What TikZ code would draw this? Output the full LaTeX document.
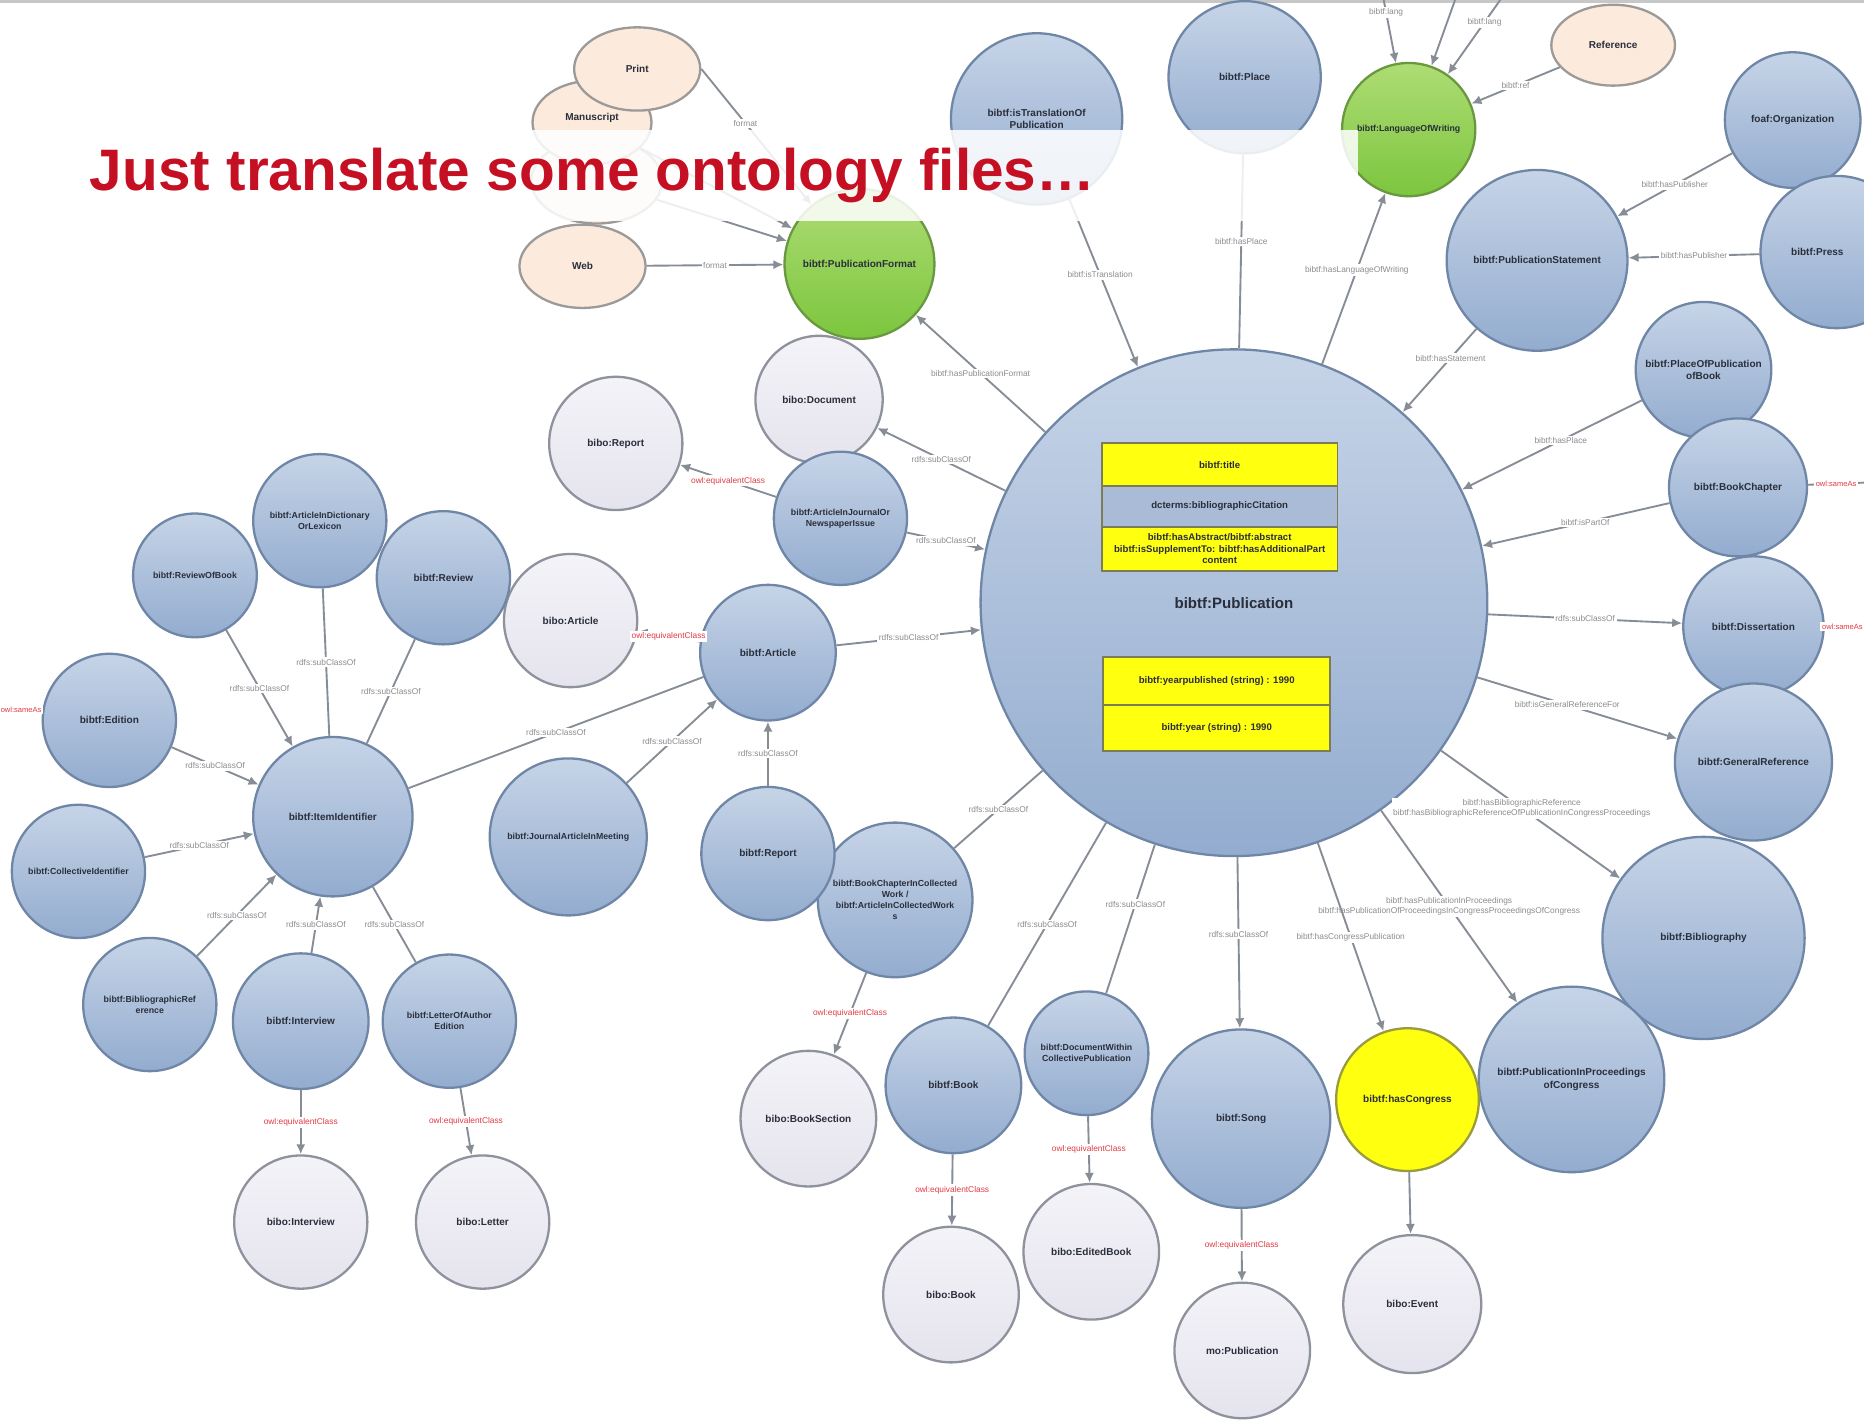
\documentclass[tikz,border=0pt]{standalone}
\usepackage{fontspec}
\setmainfont{Liberation Sans}
\usetikzlibrary{shapes.geometric,arrows.meta}
\definecolor{titlered}{HTML}{C50F22}
\definecolor{btop}{HTML}{C6D4E7}
\definecolor{bbot}{HTML}{93ACCF}
\definecolor{bline}{HTML}{6F86A6}
\definecolor{ltop}{HTML}{F4F3F8}
\definecolor{lbot}{HTML}{E5E4EE}
\definecolor{lline}{HTML}{8E929C}
\definecolor{gtop}{HTML}{AEDC74}
\definecolor{gbot}{HTML}{7CC63E}
\definecolor{gline}{HTML}{6A9840}
\definecolor{yfill}{HTML}{FFFF10}
\definecolor{yline}{HTML}{9A9A40}
\definecolor{pfill}{HTML}{FCEBDD}
\definecolor{pline}{HTML}{9C9A98}
\definecolor{ecol}{HTML}{878D97}
\definecolor{lgray}{HTML}{8C8C8C}
\definecolor{lred}{HTML}{E23A44}
\definecolor{ntext}{HTML}{2A2E3A}
\definecolor{boxline}{HTML}{7C7C58}
\definecolor{rowblue}{HTML}{A9BBD6}
\begin{document}
\begin{tikzpicture}[x=0.01cm,y=-0.01cm,
  nbase/.style={circle,line width=0.55pt,inner sep=0.3pt,align=center,font=\fontsize{2.4}{2.9}\selectfont\bfseries,text=ntext},
  bnode/.style={nbase,draw=bline,top color=btop,bottom color=bbot},
  lnode/.style={nbase,draw=lline,top color=ltop,bottom color=lbot},
  gnode/.style={nbase,draw=gline,top color=gtop,bottom color=gbot},
  ynode/.style={nbase,draw=yline,fill=yfill},
  pnode/.style={ellipse,line width=0.55pt,inner sep=0.3pt,draw=pline,fill=pfill,font=\fontsize{2.4}{2.9}\selectfont\bfseries,text=ntext},
  small/.style={font=\fontsize{2.1}{2.6}\selectfont\bfseries},
  conn/.style={draw=ecol,line width=0.45pt,-{Latex[length=2.4pt,width=2.2pt]}},
  link/.style={draw=ecol,line width=0.45pt},
  elab/.style={font=\fontsize{2}{2.4}\selectfont,text=lgray,fill=white,inner sep=0.4pt,align=center},
  rlab/.style={elab,text=lred},
  boxrow/.style={draw=boxline,line width=0.45pt,fill=yfill,inner sep=0.3pt,align=center,font=\fontsize{2.3}{2.8}\selectfont\bfseries,text=ntext},
]
\fill[white] (0,0) rectangle (1568,1199);
\useasboundingbox (0,0) rectangle (1568,1199);
\fill[black!22] (0,0) rectangle (1568,2.5);

% ---------- top area ----------
\node[pnode,minimum width=1.10cm,minimum height=0.72cm] (pElec) at (502,152) {};
\node[pnode,minimum width=1.00cm,minimum height=0.70cm] (pManu) at (498,103) {};
\node[inner sep=0pt,font=\fontsize{2.4}{2.9}\selectfont\bfseries,text=ntext] (pManuText) at (498,99) {Manuscript};
\node[pnode,minimum width=1.06cm,minimum height=0.70cm] (pPrint) at (536,58) {Print};
\node[pnode,minimum width=1.06cm,minimum height=0.70cm] (pWeb) at (490,224) {Web};
\node[gnode,minimum size=1.26cm] (gFormat) at (723,222) {bibtf:PublicationFormat};
\node[bnode,minimum size=1.44cm] (bTrans) at (872,100) {bibtf:isTranslationOf\\Publication};
\node[bnode,minimum size=1.28cm] (bPlace) at (1047,65) {bibtf:Place};
\node[gnode,minimum size=1.12cm,small] (gLang) at (1185,109) {bibtf:LanguageOfWriting};
\node[pnode,minimum width=1.04cm,minimum height=0.68cm] (pRef) at (1357,38) {Reference};
\coordinate (topA) at (1164,0);
\coordinate (topB) at (1224,0);
\coordinate (topC) at (1262,0);

% ---------- right side ----------
\node[bnode,minimum size=1.14cm] (bOrg) at (1508,101) {foaf:Organization};
\node[bnode,minimum size=1.28cm] (bPubl) at (1545,212) {};
\node[anchor=west,inner sep=0pt,font=\fontsize{2.4}{2.9}\selectfont\bfseries,text=ntext] (bPublText) at (1506,212) {bibtf:Press};
\node[bnode,minimum size=1.52cm] (bStmt) at (1293,219) {bibtf:PublicationStatement};
\node[bnode,minimum size=1.14cm] (bPlaceB) at (1433,311) {bibtf:PlaceOfPublication\\ofBook};
\node[bnode,minimum size=1.16cm] (bChap) at (1462,410) {bibtf:BookChapter};
\node[bnode,minimum size=1.18cm] (bDiss) at (1475,527) {bibtf:Dissertation};
\node[bnode,minimum size=1.32cm] (bGen) at (1475,641) {bibtf:GeneralReference};
\node[bnode,minimum size=1.70cm] (bBib) at (1433,789) {bibtf:Bibliography};
\node[bnode,minimum size=1.56cm] (bProc) at (1322,908) {bibtf:PublicationInProceedings\\ofCongress};
\node[ynode,minimum size=1.20cm] (yCong) at (1184,925) {bibtf:hasCongress};
\node[lnode,minimum size=1.16cm] (lEvent) at (1188,1097) {bibo:Event};
\coordinate (offR1) at (1568,406);
\coordinate (offR2) at (1568,527);

% ---------- bottom ----------
\node[bnode,minimum size=1.50cm] (bSong) at (1044,941) {bibtf:Song};
\node[lnode,minimum size=1.14cm] (lSong) at (1045,1136) {mo:Publication};
\node[bnode,minimum size=1.04cm,small] (bColl) at (914,886) {bibtf:DocumentWithin\\CollectivePublication};
\node[lnode,minimum size=1.14cm] (lEdited) at (918,1053) {bibo:EditedBook};
\node[bnode,minimum size=1.14cm] (bBook) at (802,913) {bibtf:Book};
\node[lnode,minimum size=1.14cm] (lBook) at (800,1089) {bibo:Book};
\node[lnode,minimum size=1.14cm] (lSect) at (680,941) {bibo:BookSection};
\node[bnode,minimum size=1.30cm,small] (bInColl) at (753,757) {bibtf:BookChapterInCollected\\Work /\\bibtf:ArticleInCollectedWork\\s};
\node[bnode,minimum size=1.12cm] (bRep) at (646,718) {bibtf:Report};
\node[bnode,minimum size=1.14cm] (bArt) at (646,549) {bibtf:Article};
\node[bnode,minimum size=1.32cm,small] (bMeet) at (478,704) {bibtf:JournalArticleInMeeting};
\node[lnode,minimum size=1.12cm] (lArt) at (480,522) {bibo:Article};
\node[lnode,minimum size=1.12cm] (lRep) at (518,373) {bibo:Report};
\node[lnode,minimum size=1.07cm] (lDoc) at (689,336) {bibo:Document};
\node[bnode,minimum size=1.12cm,small] (bJour) at (707,436) {bibtf:ArticleInJournalOr\\NewspaperIssue};

% ---------- left cluster ----------
\node[bnode,minimum size=1.04cm,small] (bRevB) at (164,484) {bibtf:ReviewOfBook};
\node[bnode,minimum size=1.12cm,small] (bDict) at (269,438) {bibtf:ArticleInDictionary\\OrLexicon};
\node[bnode,minimum size=1.12cm] (bRev) at (373,486) {bibtf:Review};
\node[bnode,minimum size=1.12cm] (bEd) at (92,606) {bibtf:Edition};
\node[bnode,minimum size=1.34cm] (bHub) at (280,687) {bibtf:ItemIdentifier};
\node[bnode,minimum size=1.12cm,small] (bCollId) at (66,733) {bibtf:CollectiveIdentifier};
\node[bnode,minimum size=1.12cm,small] (bRefr) at (126,845) {bibtf:BibliographicRef\\erence};
\node[bnode,minimum size=1.14cm] (bInt) at (253,859) {bibtf:Interview};
\node[bnode,minimum size=1.12cm,small] (bLet) at (378,859) {bibtf:LetterOfAuthor\\Edition};
\node[lnode,minimum size=1.12cm] (lInt) at (253,1028) {bibo:Interview};
\node[lnode,minimum size=1.12cm] (lLet) at (406,1028) {bibo:Letter};
\coordinate (offL) at (0,595);

% ---------- central class ----------
\node[bnode,minimum size=4.26cm,font=\fontsize{3.6}{4.2}\selectfont\bfseries] (pub) at (1038,507) {bibtf:Publication};
\node[boxrow,minimum width=1.98cm,minimum height=0.36cm] (r1) at (1026,391) {bibtf:title};
\node[boxrow,fill=rowblue,minimum width=1.98cm,minimum height=0.34cm] (r2) at (1026,426) {dcterms:bibliographicCitation};
\node[boxrow,minimum width=1.98cm,minimum height=0.37cm] (r3) at (1026,461.5) {bibtf:hasAbstract/bibtf:abstract\\bibtf:isSupplementTo: bibtf:hasAdditionalPart\\content};
\node[boxrow,minimum width=1.91cm,minimum height=0.40cm] (r4) at (1023.5,573) {bibtf:yearpublished (string) : 1990};
\node[boxrow,minimum width=1.91cm,minimum height=0.39cm] (r5) at (1023.5,612.5) {bibtf:year (string) : 1990};

% ---------- connectors ----------
\draw[conn] (pPrint.east) -- node[elab,pos=0.4]{format} (gFormat);
\draw[conn] (pManu) -- (gFormat);
\draw[conn] (pElec) -- (gFormat);
\draw[conn] (pWeb) -- node[elab]{format} (gFormat);
\draw[conn] (pub) -- node[elab]{bibtf:hasPublicationFormat} (gFormat);
\draw[conn] (bTrans) -- node[elab,pos=0.45]{bibtf:isTranslation} (pub);
\draw[link] (bPlace) -- node[elab,pos=0.45]{bibtf:hasPlace} (pub);
\draw[conn] (pub) -- node[elab,pos=0.55]{bibtf:hasLanguageOfWriting} (gLang);
\draw[conn] (topA) -- node[elab,pos=0.2]{bibtf:lang} (gLang);
\draw[conn] (topB) -- (gLang);
\draw[conn] (topC) -- node[elab,pos=0.3]{bibtf:lang} (gLang);
\draw[conn] (pRef) -- node[elab]{bibtf:ref} (gLang);
\draw[conn] (bStmt) -- node[elab,pos=0.35]{bibtf:hasStatement} (pub);
\draw[conn] (bOrg) -- node[elab]{bibtf:hasPublisher} (bStmt);
\draw[conn] (bPubl) -- node[elab]{bibtf:hasPublisher} (bStmt);
\draw[conn] (bPlaceB) -- node[elab,pos=0.45]{bibtf:hasPlace} (pub);
\draw[conn] (bChap) -- node[elab,pos=0.45]{bibtf:isPartOf} (pub);
\draw[link] (bChap) -- node[rlab,pos=0.5,font=\fontsize{1.8}{2.2}\selectfont]{owl:sameAs} (offR1);
\draw[conn] (pub) -- node[elab,pos=0.5]{rdfs:subClassOf} (bDiss);
\draw[link] (bDiss) -- node[rlab,pos=0.45,font=\fontsize{1.8}{2.2}\selectfont]{owl:sameAs} (offR2);
\draw[conn] (pub) -- node[elab,pos=0.45]{bibtf:isGeneralReferenceFor} (bGen);
\draw[conn] (pub) -- node[elab,pos=0.45]{bibtf:hasBibliographicReference\\bibtf:hasBibliographicReferenceOfPublicationInCongressProceedings} (bBib);
\draw[conn] (pub) -- node[elab,pos=0.5]{bibtf:hasPublicationInProceedings\\bibtf:hasPublicationOfProceedingsInCongressProceedingsOfCongress} (bProc);
\draw[conn] (pub) -- node[elab,pos=0.5]{bibtf:hasCongressPublication} (yCong);
\draw[conn] (yCong) -- (lEvent);
\draw[conn] (pub) -- node[elab,pos=0.45]{rdfs:subClassOf} (bSong);
\draw[conn] (bSong) -- node[rlab]{owl:equivalentClass} (lSong);
\draw[link] (pub) -- node[elab,pos=0.4]{rdfs:subClassOf} (bColl);
\draw[conn] (bColl) -- node[rlab]{owl:equivalentClass} (lEdited);
\draw[link] (pub) -- node[elab,pos=0.5]{rdfs:subClassOf} (bBook);
\draw[conn] (bBook) -- node[rlab]{owl:equivalentClass} (lBook);
\draw[link] (pub) -- node[elab,pos=0.5]{rdfs:subClassOf} (bInColl);
\draw[conn] (bInColl) -- node[rlab]{owl:equivalentClass} (lSect);
\draw[conn] (bRep) -- node[elab]{rdfs:subClassOf} (bArt);
\draw[conn] (bMeet) -- node[elab]{rdfs:subClassOf} (bArt);
\draw[conn] (bArt) -- node[elab]{rdfs:subClassOf} (pub);
\draw[conn] (bArt) -- node[rlab]{owl:equivalentClass} (lArt);
\draw[conn] (bJour) -- node[rlab]{owl:equivalentClass} (lRep);
\draw[conn] (bJour) -- node[elab]{rdfs:subClassOf} (pub);
\draw[conn] (pub) -- node[elab]{rdfs:subClassOf} (lDoc);
\draw[link] (bHub) -- node[elab]{rdfs:subClassOf} (bArt);
\draw[conn] (bRevB) -- node[elab]{rdfs:subClassOf} (bHub);
\draw[link] (bDict) -- node[elab]{rdfs:subClassOf} (bHub);
\draw[link] (bRev) -- node[elab]{rdfs:subClassOf} (bHub);
\draw[conn] (bEd) -- node[elab]{rdfs:subClassOf} (bHub);
\draw[conn] (bCollId) -- node[elab]{rdfs:subClassOf} (bHub);
\draw[conn] (bRefr) -- node[elab]{rdfs:subClassOf} (bHub);
\draw[conn] (bInt) -- node[elab]{rdfs:subClassOf} (bHub);
\draw[link] (bLet) -- node[elab]{rdfs:subClassOf} (bHub);
\draw[conn] (bInt) -- node[rlab]{owl:equivalentClass} (lInt);
\draw[conn] (bLet) -- node[rlab]{owl:equivalentClass} (lLet);
\draw[link] (bEd) -- node[rlab,pos=0.5,font=\fontsize{1.8}{2.2}\selectfont]{owl:sameAs} (offL);

% ---------- title band ----------
\fill[white,opacity=0.86] (443,109) rectangle (1142,186);
\node[anchor=base west,inner sep=0pt,text=titlered,font=\fontsize{14}{16}\selectfont\bfseries] (title) at (75,160) {Just translate some ontology files…};
\end{tikzpicture}
\end{document}
